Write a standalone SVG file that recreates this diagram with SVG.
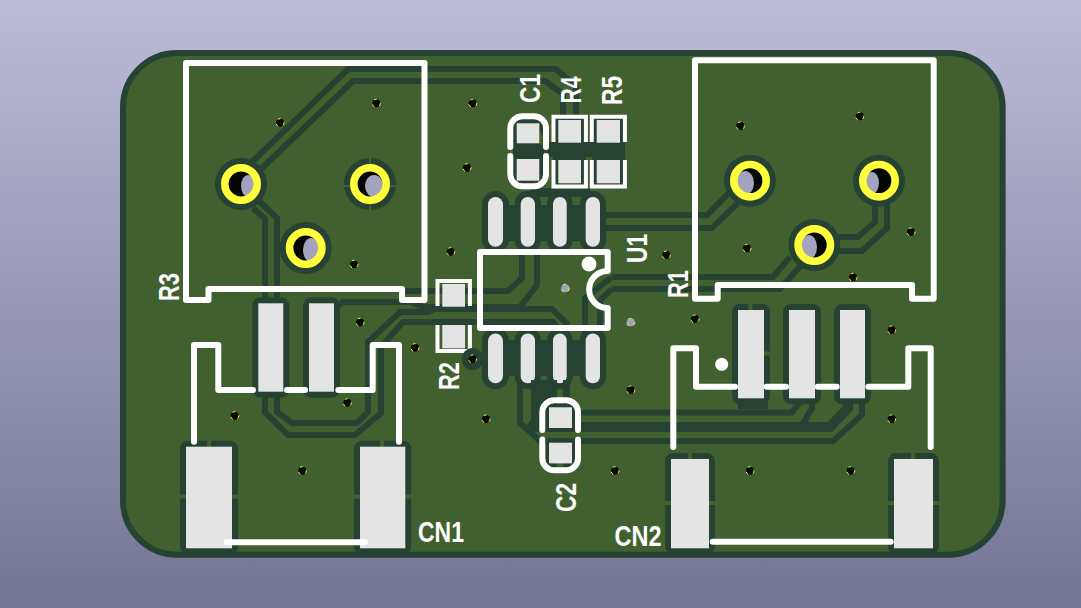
<svg xmlns="http://www.w3.org/2000/svg" width="1081" height="608" viewBox="0 0 1081 608">
<style>
.tr{fill:none;stroke:#264232;stroke-width:6}
.clr{fill:#264232;stroke:#264232;stroke-width:12;stroke-linejoin:round}
.sil{fill:none;stroke:#fff;stroke-width:6;stroke-linejoin:round;stroke-linecap:round}
.sit{fill:none;stroke:#fff;stroke-width:4;stroke-linejoin:miter}
.pad{fill:#e4e4e4}
.spk{fill:none;stroke:#41602f;stroke-width:4}
.ring{fill:none;stroke:#ffff3c;stroke-width:7.6}
.hclr{fill:#264232}
.hole{fill:#050500}
.gr{fill:#a3a3bf}
.via{fill:#080800;stroke:#ffff3c;stroke-width:1;stroke-dasharray:3 5}
.txt{font-family:"Liberation Sans",Arial,sans-serif;font-weight:700;font-size:29px;fill:#fff}
</style>
<defs>
<linearGradient id="bg" x1="0" y1="0" x2="0" y2="1"><stop offset="0" stop-color="#bcbcd9"/><stop offset="1" stop-color="#747494"/></linearGradient>
</defs>
<rect width="1081" height="608" fill="url(#bg)"/>
<rect id="board" x="123" y="53" width="879.6" height="501.7" rx="54" fill="#41602f" stroke="#264232" stroke-width="6"/>

<g id="connectors">
<path class="tr" d="M252 162L348 69H556L576 87V118"/>
<path class="tr" d="M258 172L353 81H545L563 94V118"/>
<path class="tr" d="M258 200L277 218V412L292 423H357L368 412V342L400 312H428L434 309H552L568 325"/>
<path class="tr" d="M253 208L265 219V412L288 435H355L381 413V347L403 322H553L558 328"/>
<path class="tr" d="M333 310L343 302H410L424 307H520L537 285V250"/>
<path class="tr" d="M404 291H508L522 278V250"/>
<path class="tr" d="M600 215H707L730 192"/>
<path class="tr" d="M600 228H712L738 203"/>
<path class="tr" d="M612 277H773L790 257"/>
<path class="tr" d="M612 289H780L803 263"/>
<path class="tr" d="M612 277L585 298V335M612 289L600 300V335"/>
<path class="tr" d="M837 237H858L875 222V203"/>
<path class="tr" d="M835 251H862L887 228V203"/>
<path class="tr" d="M580 412.500H792L800 402"/>
<path class="tr" d="M520 380V423L540 441H833L862 415V400"/>
<path class="tr" style="stroke-width:10" d="M530 421L537 427H830L848 408V398"/>
<path class="tr" d="M803 424L812 408V398"/>
</g>

<g id="CN1">
<rect class="clr" x="258.300" y="303.300" width="25" height="88.400" rx="2"/>
<rect class="clr" x="309" y="303.300" width="25" height="88.400" rx="2"/>
<rect class="clr" x="186" y="446.700" width="46" height="102" rx="2"/>
<rect class="clr" x="360" y="446.700" width="45.300" height="102" rx="2"/>
<path class="spk" d="M209 439V447M382 439V447M178 496.500H186M232 496.500H240M352 496.500H360M405 496.500H413"/>
<rect class="pad" x="258.300" y="303.300" width="25" height="88.400"/>
<rect class="pad" x="309" y="303.300" width="25" height="88.400"/>
<rect class="pad" x="186" y="446.700" width="46" height="101.600"/>
<rect class="pad" x="360" y="446.700" width="45.300" height="101.600"/>
<path class="sil" d="M194 441.700V345H218.300V390H253M287 390H305M338.300 390H372.700V345H399V441.700M226.700 542.300H365"/>
<text class="txt" x="418" y="541.500" textLength="46" lengthAdjust="spacingAndGlyphs">CN1</text>
</g>

<g id="CN2">
<rect x="738" y="396" width="30" height="13" fill="#264232"/>
<rect class="clr" x="738" y="310" width="26" height="88.300" rx="2"/>
<rect class="clr" x="789" y="310" width="26" height="88.300" rx="2"/>
<rect class="clr" x="840" y="310" width="25" height="88.300" rx="2"/>
<rect class="clr" x="671" y="459" width="38" height="89.300" rx="2"/>
<rect class="clr" x="894" y="459" width="39" height="89.300" rx="2"/>
<path class="spk" d="M750.500 303V310M764 353.500H771M690 451V459M913 451V459M664 503H671M709 503H716M887 503H894M933 503H940"/>
<rect class="pad" x="738" y="310" width="26" height="88.300"/>
<rect class="pad" x="789" y="310" width="26" height="88.300"/>
<rect class="pad" x="840" y="310" width="25" height="88.300"/>
<rect class="pad" x="671" y="459" width="38" height="89.300"/>
<rect class="pad" x="894" y="459" width="39" height="89.300"/>
<path class="sil" d="M673.300 447V348.300H696V386.700H735M766.700 386.700H786M817.700 386.700H836.700M868.300 386.700H908.300V348.300H930.700V447M712.700 541.700H890.700"/>
<circle cx="721.700" cy="364.300" r="6.500" fill="#fff"/>
<text class="txt" x="614.500" y="545.500" textLength="47" lengthAdjust="spacingAndGlyphs">CN2</text>
</g>

<g id="R3">
<circle class="hclr" cx="241" cy="184" r="26"/>
<circle class="hclr" cx="370" cy="184" r="26"/>
<circle class="hclr" cx="305.700" cy="248" r="26"/>
<path class="spk" style="stroke-width:2" d="M370 157V166M370 202V211M343 186H352M388 186H397"/>
<circle class="hole" cx="241" cy="184" r="13"/><ellipse class="gr" cx="248" cy="186" rx="7" ry="11"/>
<circle class="hole" cx="370" cy="184" r="13"/><ellipse class="gr" cx="374" cy="186" rx="9" ry="11"/>
<circle class="hole" cx="305.700" cy="248" r="13"/><ellipse class="gr" cx="311" cy="250" rx="8" ry="12"/>
<circle class="ring" cx="241" cy="184" r="16.200"/>
<circle class="ring" cx="370" cy="184" r="16.200"/>
<circle class="ring" cx="305.700" cy="248" r="16.200"/>
<path class="sil" d="M186 63H424.500V300H402V289H208.500V300H186Z"/>
<text class="txt" transform="translate(179 301) rotate(-90)" textLength="28" lengthAdjust="spacingAndGlyphs">R3</text>
</g>

<g id="R1">
<circle class="hclr" cx="750" cy="180.700" r="26"/>
<circle class="hclr" cx="879" cy="180.700" r="26"/>
<circle class="hclr" cx="814.300" cy="245" r="26"/>
<circle class="hole" cx="750" cy="180.700" r="13"/><ellipse class="gr" cx="745" cy="183" rx="9" ry="12"/>
<circle class="hole" cx="879" cy="180.700" r="13"/><ellipse class="gr" cx="872" cy="183" rx="7" ry="11"/>
<circle class="hole" cx="814.300" cy="245" r="13"/><ellipse class="gr" cx="809" cy="247" rx="8" ry="12"/>
<circle class="ring" cx="750" cy="180.700" r="16.200"/>
<circle class="ring" cx="879" cy="180.700" r="16.200"/>
<circle class="ring" cx="814.300" cy="245" r="16.200"/>
<path class="sil" d="M695 60.300H933.700V298.700H912V285H717.700V298.700H695Z"/>
<text class="txt" transform="translate(688 298) rotate(-90)" textLength="28" lengthAdjust="spacingAndGlyphs">R1</text>
</g>

<g id="U1">
<rect x="503" y="205" width="83" height="36" fill="#264232"/>
<rect x="503" y="340" width="83" height="36" fill="#264232"/>
<rect class="clr" x="488" y="197" width="15" height="49.700" rx="7.500"/>
<rect class="clr" x="520.700" y="197" width="14.300" height="49.700" rx="7"/>
<rect class="clr" x="553" y="197" width="13.700" height="49.700" rx="6.800"/>
<rect class="clr" x="585.700" y="197" width="14.300" height="49.700" rx="7"/>
<rect class="clr" x="488" y="333.500" width="15" height="49.700" rx="7.500"/>
<rect class="clr" x="520.700" y="333.500" width="14.300" height="49.700" rx="7"/>
<rect class="clr" x="553" y="333.500" width="13.700" height="49.700" rx="6.800"/>
<rect class="clr" x="585.700" y="333.500" width="14.300" height="49.700" rx="7"/>
<rect class="pad" x="488" y="197" width="15" height="49.700" rx="7.500"/>
<rect class="pad" x="520.700" y="197" width="14.300" height="49.700" rx="7"/>
<rect class="pad" x="553" y="197" width="13.700" height="49.700" rx="6.800"/>
<rect class="pad" x="585.700" y="197" width="14.300" height="49.700" rx="7"/>
<rect class="pad" x="488" y="333.500" width="15" height="49.700" rx="7.500"/>
<rect class="pad" x="520.700" y="333.500" width="14.300" height="49.700" rx="7"/>
<rect class="pad" x="553" y="333.500" width="13.700" height="49.700" rx="6.800"/>
<rect class="pad" x="585.700" y="333.500" width="14.300" height="49.700" rx="7"/>
<path class="sil" d="M480 252H607.700V271A18.500 18.500 0 0 0 607.700 308V328H480Z"/>
<circle cx="589" cy="264" r="7.500" fill="#fff"/>
<text class="txt" transform="translate(647 263) rotate(-90)" textLength="29" lengthAdjust="spacingAndGlyphs">U1</text>
</g>

<g id="C1">
<path d="M547 142H626L622 150L626 157H547Z" fill="#264232"/>
<path d="M513 118H545V147L548 157H545V186H513Z" fill="#264232"/>
<rect x="530" y="188" width="60" height="9" fill="#264232"/>
<path d="M539 130L547 142V150L539 143Z" fill="#41602f"/>
<rect class="pad" x="516.700" y="123.300" width="22.600" height="20"/>
<rect class="pad" x="516.700" y="159" width="22.600" height="21.700"/>
<path class="sil" d="M510.300 147V128A12 12 0 0 1 522.300 116.300H534A12 12 0 0 1 546 128V147M510.300 156V174A12 12 0 0 0 522.300 186.300H534A12 12 0 0 0 546 174V156"/>
<text class="txt" transform="translate(540 103) rotate(-90)" textLength="29" lengthAdjust="spacingAndGlyphs">C1</text>
</g>

<g id="R4">
<rect x="553" y="117" width="33" height="70" fill="#264232"/>
<rect class="pad" x="558.300" y="120" width="22.700" height="22.700"/>
<rect class="pad" x="558.300" y="160" width="22.700" height="23.300"/>
<path class="sit" d="M553.500 142V116.800H585.900V142M553.500 160V186.500H585.900V160"/>
<text class="txt" transform="translate(581 103.500) rotate(-90)" textLength="27" lengthAdjust="spacingAndGlyphs">R4</text>
</g>

<g id="R5">
<rect x="592" y="117" width="33" height="70" fill="#264232"/>
<rect class="pad" x="596.700" y="120" width="23.300" height="22.700"/>
<rect class="pad" x="596.700" y="160" width="23.300" height="23.300"/>
<path class="sit" d="M591.800 142V116.800H624.900V142M591.800 160V186.500H624.900V160"/>
<text class="txt" transform="translate(622 105) rotate(-90)" textLength="29" lengthAdjust="spacingAndGlyphs">R5</text>
</g>

<g id="R2">
<rect class="pad" x="442.300" y="284" width="22.700" height="22.700"/>
<rect class="pad" x="442.300" y="325" width="22.700" height="23.300"/>
<path class="sit" d="M437.500 306V281.100H469.900V306M437.500 325V350.900H469.900V325"/>
<text class="txt" transform="translate(459 390) rotate(-90)" textLength="28" lengthAdjust="spacingAndGlyphs">R2</text>
</g>

<g id="C2">
<rect x="531" y="380" width="26" height="42" fill="#264232"/>
<rect x="563" y="380" width="7" height="24" fill="#264232"/>
<rect x="546" y="404" width="29" height="27" fill="#264232"/>
<rect x="546" y="440" width="29" height="27" fill="#264232"/>
<path d="M557 463H563V470H557Z" fill="#41602f"/>
<rect class="pad" x="549" y="407.300" width="23" height="20.700"/>
<rect class="pad" x="549" y="442.700" width="23" height="20.700"/>
<path class="sil" d="M542.300 430V412A12 12 0 0 1 554.300 400.300H566A12 12 0 0 1 578 412V430M542.300 439.500V458A12 12 0 0 0 554.300 470.300H566A12 12 0 0 0 578 458V439.500"/>
<text class="txt" transform="translate(576 512) rotate(-90)" textLength="29" lengthAdjust="spacingAndGlyphs">C2</text>
</g>

<g id="vias">
<circle class="hclr" cx="472.700" cy="359" r="11"/>
<circle class="via" cx="280" cy="122.700" r="4"/>
<circle class="via" cx="376.300" cy="103.300" r="4"/>
<circle class="via" cx="354" cy="264.300" r="4"/>
<circle class="via" cx="360" cy="322.300" r="4"/>
<circle class="via" cx="415" cy="347.700" r="4"/>
<circle class="via" cx="472.700" cy="359" r="4"/>
<circle class="via" cx="347.300" cy="402.700" r="4"/>
<circle class="via" cx="234.700" cy="415.700" r="4"/>
<circle class="via" cx="302.300" cy="470.700" r="4"/>
<circle class="via" cx="472.700" cy="103.300" r="4"/>
<circle class="via" cx="467" cy="167.700" r="4"/>
<circle class="via" cx="450.700" cy="251.700" r="4"/>
<circle class="via" cx="565.300" cy="288.300" r="4" style="fill:#a3a3bf"/>
<circle class="via" cx="666.300" cy="255" r="4"/>
<circle class="via" cx="630.700" cy="322.300" r="4" style="fill:#a3a3bf"/>
<circle class="via" cx="630.700" cy="390" r="4"/>
<circle class="via" cx="486" cy="419" r="4"/>
<circle class="via" cx="615" cy="470.700" r="4"/>
<circle class="via" cx="695" cy="319" r="4"/>
<circle class="via" cx="740.300" cy="126" r="4"/>
<circle class="via" cx="859.700" cy="116.300" r="4"/>
<circle class="via" cx="911" cy="232" r="4"/>
<circle class="via" cx="747" cy="248.300" r="4"/>
<circle class="via" cx="853" cy="277.300" r="4"/>
<circle class="via" cx="891.700" cy="330" r="4"/>
<circle class="via" cx="891.700" cy="419" r="4"/>
<circle class="via" cx="750" cy="470.700" r="4"/>
<circle class="via" cx="850.700" cy="470.700" r="4"/>
</g>
</svg>
